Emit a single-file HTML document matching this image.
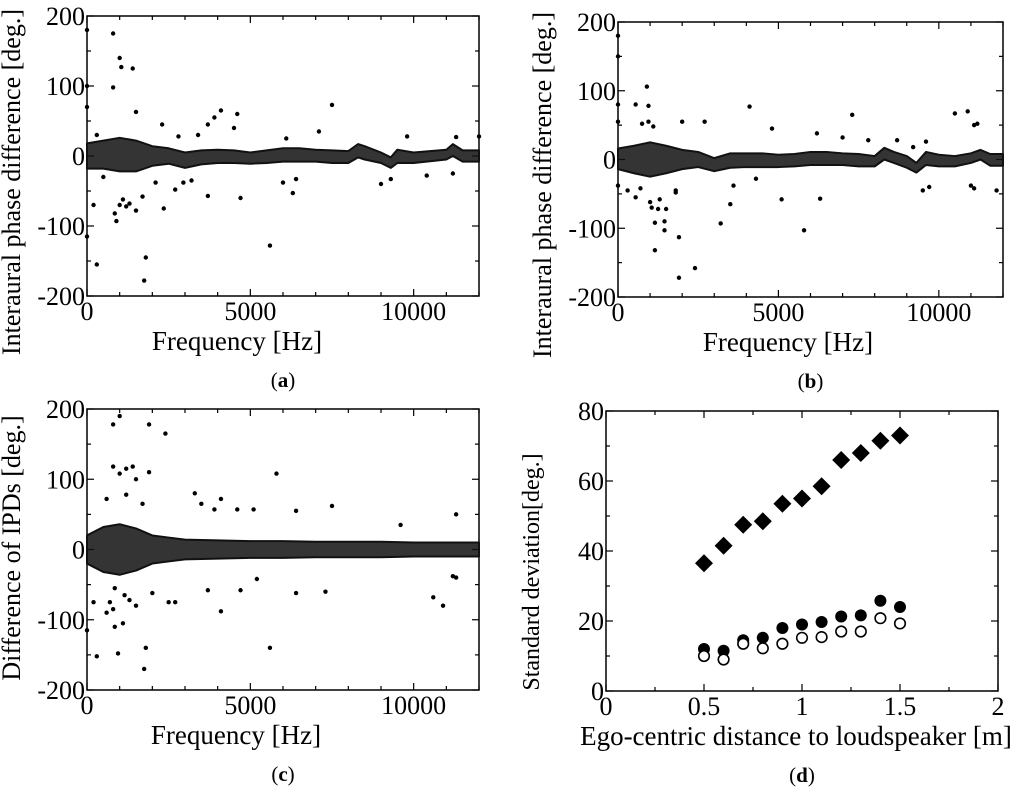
<!DOCTYPE html>
<html><head><meta charset="utf-8">
<style>
html,body{margin:0;padding:0;background:#fff;}
svg{display:block;font-family:"Liberation Serif",serif;}
</style></head>
<body>
<svg id="fig" width="1024" height="791" viewBox="0 0 1024 791"></svg>
<script>
// ---------- DATA ----------
const bandFreqA = [0,500,1000,1500,2000,2500,3000,3500,4000,4500,5000,5500,6000,6500,7000,7500,8000,8300,8500,9000,9300,9500,10000,11000,11200,11500,12000];
const bandUpA   = [18,22,26,22,14,11,5,8,9,8,5,8,11,11,9,8,7,17,14,5,-2,9,5,9,17,8,8];
const bandLoA   = [-18,-18,-22,-22,-14,-11,-17,-12,-10,-10,-11,-10,-8,-8,-8,-10,-10,-2,-5,-10,-17,-10,-10,-5,0,-8,-8];
const outFreqA = [0,0,0,0,300,800,1000,1050,1400,800,850,900,1000,1100,1300,1500,1500,1800,1750,1700,1200,4100,3900,3700,4600,4500,4700,3700,5600,7500,7100,2300,2350,2800,3400,9000,9800,10400,11200,11300,6000,6300,6400,6100,9300,12000,200,300,500,2100,2700,2950,3200];
const outValA  = [180,100,70,-115,-155,175,140,127,125,98,-82,-93,-70,-62,-68,63,-78,-145,-178,-58,-72,65,55,45,60,40,-60,-57,-128,73,35,45,-75,28,30,-40,28,-28,-25,27,-38,-53,-33,25,-33,28,-70,30,-30,-38,-48,-38,-35];

const bandFreqB = [0,500,1000,1500,2000,2500,3000,3500,4000,4500,5000,5500,6000,6500,7000,7500,8000,8300,8600,9000,9300,9600,10000,10500,11000,11300,11600,12000];
const bandUpB   = [16,20,25,20,14,11,2,9,9,9,7,8,11,11,9,8,5,17,11,5,-5,11,7,5,9,14,8,8];
const bandLoB   = [-14,-20,-25,-20,-14,-11,-17,-12,-11,-11,-11,-10,-8,-8,-8,-10,-10,0,-5,-12,-19,-8,-10,-10,-5,0,-9,-9];
const outFreqB = [0,0,0,0,0,900,550,950,750,950,1100,1000,1050,1150,1150,1250,1300,1450,1450,1500,1900,1900,2400,2000,2700,3200,3500,4100,4800,5100,5800,6300,6200,7300,7000,10500,10900,11100,11200,11000,11100,11800,9500,9700,9600,300,550,700,1800,1800,3600,4300,7800,8700,9200];
const outValB  = [180,150,80,55,-38,106,80,78,52,55,48,-62,-70,-92,-132,-72,-58,-103,-90,-72,-113,-172,-158,55,55,-93,-65,77,45,-58,-103,-57,38,65,32,67,70,50,52,-38,-42,-45,-45,-40,26,-45,-55,-42,-45,-48,-38,-28,28,28,18];

const bandFreqC = [0,500,1000,1500,2000,2500,3000,4000,5000,6000,7000,8000,9000,10000,11000,12000];
const bandUpC   = [20,32,36,30,20,17,14,13,12,12,11,11,11,10,10,10];
const bandLoC   = [-20,-32,-36,-30,-20,-17,-14,-13,-12,-12,-11,-11,-11,-10,-10,-10];
const outFreqC = [1000,800,1900,2400,800,1000,1200,1400,1500,1900,5800,3300,4100,3500,7500,6400,5100,4600,11300,1200,1700,600,3900,9600,1100,850,950,1800,1750,5600,300,0,4100,3700,2500,2700,2000,1500,1300,700,600,200,6400,7300,10600,10900,4700,5200,11200,11300,1150,850,800];
const outValC  = [190,178,178,165,118,108,115,118,100,110,108,80,72,65,62,55,57,57,50,78,65,72,57,35,-105,-110,-148,-140,-170,-140,-152,-115,-88,-58,-75,-75,-62,-80,-72,-75,-90,-75,-62,-60,-68,-80,-58,-42,-38,-40,-65,-55,-85];

const distances = [0.5,0.6,0.7,0.8,0.9,1.0,1.1,1.2,1.3,1.4,1.5];
const sdDiamond = [36.5,41.5,47.5,48.5,53.5,55,58.5,66,68,71.5,73];
const sdFilled  = [12,11.5,14.5,15.2,18,19,19.7,21.3,21.6,25.8,24];
const sdOpen    = [10,9,13.5,12.2,13.5,15.2,15.4,17,17,20.8,19.3];

// ---------- HELPERS ----------
const NS='http://www.w3.org/2000/svg';
const svg=document.getElementById('fig');
function mk(tag,attrs,parent){const e=document.createElementNS(NS,tag);for(const k in attrs)e.setAttribute(k,attrs[k]);(parent||svg).appendChild(e);return e;}

function panel(o){
  const g=mk('g',{});
  
  
  const sx=v=>o.x0+(v-o.xmin)/(o.xmax-o.xmin)*(o.x1-o.x0);
  const sy=v=>o.y1-(v-o.ymin)/(o.ymax-o.ymin)*(o.y1-o.y0);
  for(let v=o.xmin;v<=o.xmax+1e-9;v+=o.xminor){
    const major=Math.abs((v-o.xmin)/o.xmajor-Math.round((v-o.xmin)/o.xmajor))<1e-6;
    const L=major?7:4;const X=sx(v);
    mk('line',{x1:X,y1:o.y1,x2:X,y2:o.y1-L,stroke:'#000','stroke-width':1.2},g);
    mk('line',{x1:X,y1:o.y0,x2:X,y2:o.y0+L,stroke:'#000','stroke-width':1.2},g);
    if(major){const t=mk('text',{x:X,y:o.y1+24,'text-anchor':'middle','font-size':26},g);t.textContent=o.xfmt(v);
      }
  }
  for(let v=o.ymin;v<=o.ymax+1e-9;v+=o.yminor){
    const major=Math.abs((v-o.ymin)/o.ymajor-Math.round((v-o.ymin)/o.ymajor))<1e-6;
    const L=major?7:4;const Y=sy(v);
    mk('line',{x1:o.x0,y1:Y,x2:o.x0+L,y2:Y,stroke:'#000','stroke-width':1.2},g);
    mk('line',{x1:o.x1,y1:Y,x2:o.x1-L,y2:Y,stroke:'#000','stroke-width':1.2},g);
    if(major){const t=mk('text',{x:o.x0-2,y:Y+9,'text-anchor':'end','font-size':26},g);t.textContent=String(v);
      }
  }
  mk('rect',{x:o.x0,y:o.y0,width:o.x1-o.x0,height:o.y1-o.y0,fill:'none',stroke:'#000','stroke-width':1.5},g);
  const yt=mk('text',{x:0,y:0,'text-anchor':'middle','font-size':o.ytfs,transform:`translate(${o.x0-67},${o.ytc}) rotate(-90)`},g);
  yt.textContent=o.ytitle;
  
  const xt=mk('text',{x:o.xtc,y:o.y1+54,'text-anchor':'middle','font-size':o.xtfs},g);
  xt.textContent=o.xtitle;
  
  const lab=mk('text',{x:(o.x0+o.x1)/2,y:o.y1+91,'text-anchor':'middle','font-size':21},g);
  lab.innerHTML='(<tspan font-weight="bold">'+o.letter+'</tspan>)';
  
  return {g,sx,sy};
}

function scatterPanel(o,bf,bu,bl,of,ov){
  const p=panel(Object.assign({xmin:0,xmax:12000,xmajor:5000,xminor:1000,ymin:-200,ymax:200,ymajor:100,yminor:50,xfmt:v=>String(v),xtitle:'Frequency [Hz]',xtfs:27},o));
  let d='';
  bf.forEach((f,i)=>{d+=(i?'L':'M')+p.sx(f)+','+p.sy(bu[i]);});
  for(let i=bf.length-1;i>=0;i--)d+='L'+p.sx(bf[i])+','+p.sy(bl[i]);
  const band=mk('path',{d:d+'Z',fill:'#111','fill-opacity':0.85,stroke:'#111','stroke-width':2,'stroke-linejoin':'round'},p.g);
  
  
  of.forEach((f,i)=>{
    const c=mk('circle',{cx:p.sx(f),cy:p.sy(ov[i]),r:2.2,fill:'#000'},p.g);
    
    
  });
}

scatterPanel({name:'panel-a',x0:87,x1:479,y0:16,y1:296,ytitle:'Interaural phase difference [deg.]',ytfs:26,ytc:182,xtc:237,letter:'a'},bandFreqA,bandUpA,bandLoA,outFreqA,outValA);
scatterPanel({name:'panel-b',x0:618,x1:1003,y0:22,y1:297,ytitle:'Interaural phase difference [deg.]',ytfs:26,ytc:185,xtc:788,letter:'b'},bandFreqB,bandUpB,bandLoB,outFreqB,outValB);
scatterPanel({name:'panel-c',x0:87,x1:479,y0:409,y1:690,ytitle:'Difference of IPDs [deg.]',ytfs:26,ytc:548,xtc:236,letter:'c'},bandFreqC,bandUpC,bandLoC,outFreqC,outValC);

const pd=panel({name:'panel-d',x0:606,x1:998,y0:411,y1:691,xmin:0,xmax:2,xmajor:0.5,xminor:0.25,ymin:0,ymax:80,ymajor:20,yminor:10,
  xfmt:v=>String(Math.round(v*10)/10),xtitle:'Ego-centric distance to loudspeaker [m]',xtfs:27,xtc:796,ytitle:'Standard deviation[deg.]',ytfs:24,ytc:572,letter:'d'});
distances.forEach((x,i)=>{
  const X=pd.sx(x),Y=pd.sy(sdDiamond[i]);
  const dm=mk('path',{d:`M${X},${Y-9}L${X+9},${Y}L${X},${Y+9}L${X-9},${Y}Z`,fill:'#000'},pd.g);
  
  
  const fc=mk('circle',{cx:X,cy:pd.sy(sdFilled[i]),r:6,fill:'#000'},pd.g);
  
  
  const oc=mk('circle',{cx:X,cy:pd.sy(sdOpen[i]),r:5.3,fill:'#fff',stroke:'#000','stroke-width':1.6},pd.g);
  
  
});
</script>
</body></html>
